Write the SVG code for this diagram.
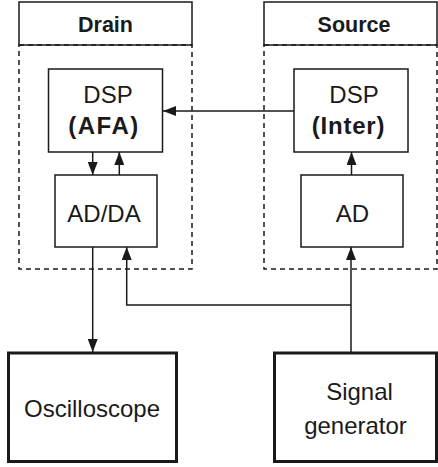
<svg xmlns="http://www.w3.org/2000/svg" width="438" height="467" viewBox="0 0 438 467">
<style>
.box{fill:#fff;stroke:#1a1a1a;stroke-width:1.5}
.thick{fill:#fff;stroke:#1a1a1a;stroke-width:3}
.dash{fill:none;stroke:#1a1a1a;stroke-width:1.5;stroke-dasharray:5,4}
.t{font-family:"Liberation Sans",Arial,sans-serif;font-size:24px;fill:#1a1a1a;text-anchor:middle}
.b{font-weight:bold}
.h{font-family:"Liberation Sans",Arial,sans-serif;font-size:21.5px;font-weight:bold;fill:#1a1a1a;text-anchor:middle}
.c{fill:none;stroke:#1a1a1a;stroke-width:1.5}
</style>
<defs>
<marker id="arr" viewBox="0 0 13 10" refX="13" refY="5" markerWidth="13" markerHeight="10" markerUnits="userSpaceOnUse" orient="auto">
<path d="M0,0 L13,5 L0,10 Z" fill="#1a1a1a"/>
</marker>
</defs>
<g id="drain">
<rect class="box" x="19" y="2" width="173" height="43"/>
<text class="h" x="105.5" y="31.5">Drain</text>
<rect class="dash" x="19" y="45" width="173" height="224"/>
</g>
<g id="source">
<rect class="box" x="264" y="2" width="173" height="43"/>
<text class="h" x="354" y="31.5">Source</text>
<rect class="dash" x="264" y="45" width="173" height="224"/>
</g>
<g id="dsp-afa">
<rect class="box" x="48.5" y="69" width="114" height="83"/>
<text class="t" x="108" y="103">DSP</text>
<text class="t b" x="104" y="134" letter-spacing="1.5">(AFA)</text>
</g>
<g id="adda">
<rect class="box" x="55" y="175" width="102" height="72"/>
<text class="t" x="104" y="221.5">AD/DA</text>
</g>
<g id="dsp-inter">
<rect class="box" x="294" y="69" width="114" height="83"/>
<text class="t" x="354" y="103">DSP</text>
<text class="t b" x="348.5" y="134" letter-spacing="0.8">(Inter)</text>
</g>
<g id="ad">
<rect class="box" x="301" y="175" width="102" height="72"/>
<text class="t" x="352.5" y="221.5">AD</text>
</g>
<g id="oscilloscope">
<rect class="thick" x="8.5" y="353" width="168" height="108.5"/>
<text class="t" x="92" y="416.5">Oscilloscope</text>
</g>
<g id="signal-generator">
<rect class="thick" x="274.5" y="353" width="162" height="108.5"/>
<text class="t" x="359.5" y="399.5">Signal</text>
<text class="t" x="355.5" y="433.5">generator</text>
</g>
<g id="connectors">
<line class="c" x1="294" y1="111" x2="163" y2="111" marker-end="url(#arr)"/>
<line class="c" x1="92.7" y1="152" x2="92.7" y2="175" marker-end="url(#arr)"/>
<line class="c" x1="119.3" y1="175" x2="119.3" y2="152" marker-end="url(#arr)"/>
<line class="c" x1="351.5" y1="175" x2="351.5" y2="152" marker-end="url(#arr)"/>
<line class="c" x1="92.7" y1="247" x2="92.7" y2="352" marker-end="url(#arr)"/>
<line class="c" x1="351" y1="352" x2="351" y2="247" marker-end="url(#arr)"/>
<polyline class="c" points="351,305 126.7,305 126.7,247" marker-end="url(#arr)"/>
</g>
</svg>
